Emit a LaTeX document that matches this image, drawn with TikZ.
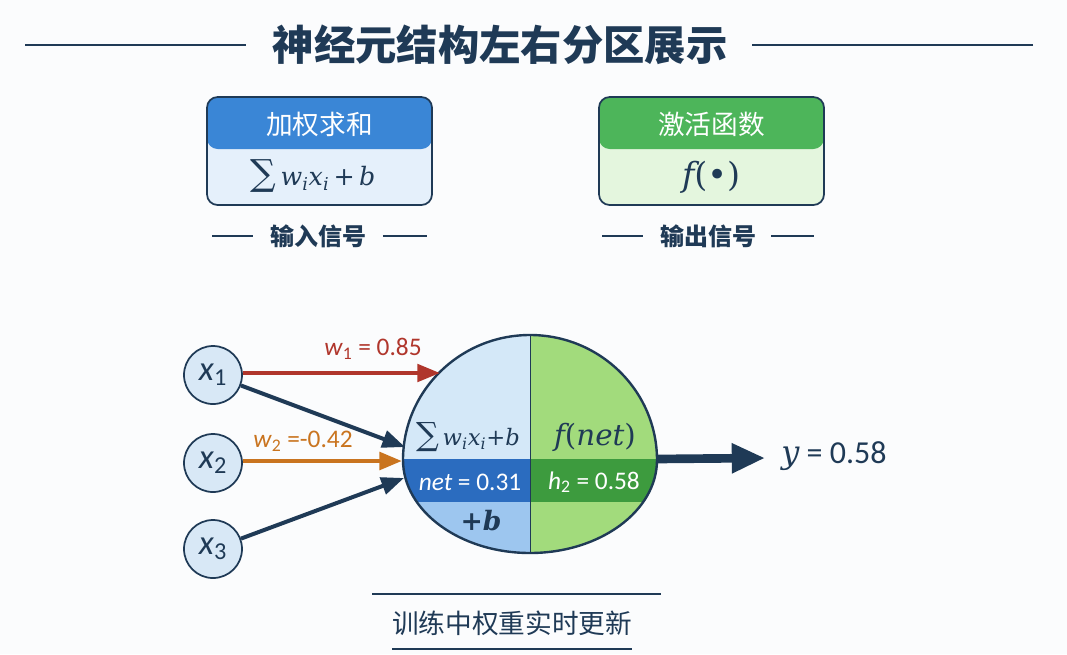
\documentclass[tikz,border=0pt]{standalone}
\usepackage{fontspec}
\setmainfont{Carlito}
\newfontfamily\cjk{Noto Sans CJK SC}
\newfontfamily\fml{DejaVu Serif}
\usetikzlibrary{arrows.meta}
\newcommand\vv[1]{{\fml\itshape #1}}
\newcommand\vs[2]{{\fml\itshape #1\textsubscript{#2}}}
\newcommand\bigsum[1]{{\fontsize{#1}{#1}\selectfont ∑}}
\definecolor{navy}{HTML}{1F3A56}
\definecolor{bgc}{HTML}{FBFCFD}
\definecolor{blueH}{HTML}{3A86D6}
\definecolor{blueL}{HTML}{E5F0FB}
\definecolor{greenH}{HTML}{4DB55A}
\definecolor{greenL}{HTML}{E4F6DE}
\definecolor{nTop}{HTML}{D4E8F8}
\definecolor{nBand}{HTML}{2B6CBF}
\definecolor{nBot}{HTML}{9DC6EF}
\definecolor{gLight}{HTML}{A2DB7C}
\definecolor{gBand}{HTML}{3D9B3E}
\definecolor{wRed}{HTML}{B0362C}
\definecolor{wOrange}{HTML}{C9741F}
\definecolor{inC}{HTML}{D8E8F6}
\tikzset{
  box/.style={draw=navy, line width=1.3pt, rounded corners=8pt, minimum width=168.75pt, minimum height=81pt, inner sep=0pt,
    path picture={\fill[#1] (path picture bounding box.north west) rectangle ([yshift=-39pt]path picture bounding box.north east);}},
  headtxt/.style={text=white, font=\cjk\fontsize{20}{20}\selectfont, inner sep=0pt},
  sigtxt/.style={text=navy, font=\cjk\bfseries\fontsize{18}{18}\selectfont, inner sep=0pt},
  thinline/.style={draw=navy, line width=1pt},
  innode/.style={circle, draw=navy, fill=inC, line width=1.3pt, minimum size=43.5pt, inner sep=0pt, text=navy, font=\fontsize{26}{26}\selectfont},
  warrow/.style={line width=3pt, -{Triangle[length=17pt,width=13pt]}},
}
\def\neuron{(403,460) .. controls (403,391) and (460,335) .. (530,335) .. controls (600,335) and (657,391) .. (657,460) .. controls (657,511) and (600,553) .. (530,553) .. controls (460,553) and (403,511) .. (403,460) -- cycle}
\begin{document}
\begin{tikzpicture}[x=0.75pt,y=-0.75pt]
\fill[bgc] (0,0) rectangle (1067,654);
\useasboundingbox (0,0) rectangle (1067,654);

% title
\node[inner sep=0pt, text=navy, font=\cjk\bfseries\fontsize{31}{31}\selectfont] (title) at (500,45) {神经元结构左右分区展示};
\coordinate (tl) at (25,45);
\coordinate (tr) at (1033,45);
\draw[thinline] (tl) -- ([xshift=-20pt]title.west);
\draw[thinline] (tr) -- ([xshift=18pt]title.east);

% top boxes
\node[box=blueH, fill=blueL] (lbox) at (319.5,151) {};
\node[headtxt] (lhead) at (319.5,124) {加权求和};
\node[inner sep=0pt, text=navy, font=\fml\fontsize{19}{19}\selectfont] (lform) at (313,176) {\bigsum{27}\,\vs{w}{i}\vs{x}{i}\,+\,\vv{b}};
\node[sigtxt] (lsig) at (318.5,236) {输入信号};
\draw[thinline] ([xshift=-13pt]lsig.west) -- ++(-41,0);
\draw[thinline] ([xshift=12pt]lsig.east) -- ++(44,0);

\node[box=greenH, fill=greenL] (rbox) at (711.5,151) {};
\node[headtxt] (rhead) at (711.5,124) {激活函数};
\node[inner sep=0pt, text=navy, font=\fml\fontsize{25}{25}\selectfont] (rform) at (711,177) {\vv{f}(•)};
\node[sigtxt] (rsig) at (708.5,236) {输出信号};
\draw[thinline] ([xshift=-13pt]rsig.west) -- ++(-41,0);
\draw[thinline] ([xshift=11pt]rsig.east) -- ++(43,0);

% neuron
\begin{scope}
\clip \neuron;
\fill[nTop] (400,330) rectangle (530.5,459);
\fill[nBand] (400,459) rectangle (530.5,502);
\fill[nBot] (400,502) rectangle (530.5,560);
\fill[gLight] (530.5,330) rectangle (660,560);
\fill[gBand] (530.5,459) rectangle (660,502);
\draw[navy, line width=1.3pt] (530.5,330) -- (530.5,560);
\end{scope}
\draw[navy, line width=1.8pt] \neuron;

\node[inner sep=0pt, text=navy, font=\fml\fontsize{17}{17}\selectfont] (sumtxt) at (468,437) {\bigsum{24}\,\vs{w}{i}\vs{x}{i}+\vv{b}};
\node[inner sep=0pt, text=navy, font=\fml\fontsize{22}{22}\selectfont] (ftxt) at (595,437) {\vv{f}(\vv{net})};
\node[inner sep=0pt, text=white, font=\fontsize{19}{19}\selectfont] (nettxt) at (470,482) {\textit{net} = 0.31};
\node[inner sep=0pt, text=white, font=\fontsize{19}{19}\selectfont] (htxt) at (594,482) {\textit{h}\textsubscript{2} = 0.58};
\node[inner sep=0pt, text=navy, font=\fml\bfseries\fontsize{20}{20}\selectfont] (btxt) at (481,521) {+\vv{b}};

\coordinate (n1) at (440,373);
\coordinate (n2) at (405,447);
\coordinate (n3) at (402,461);
\coordinate (n4) at (404,478);
\coordinate (nout) at (657,459);

% inputs
\node[innode] (x1) at (213,375) {\textit{x}\textsubscript{1}};
\node[innode] (x2) at (213,463) {\textit{x}\textsubscript{2}};
\node[innode] (x3) at (213,549) {\textit{x}\textsubscript{3}};

\draw[warrow, wRed] (x1.east |- n1) -- (n1);
\draw[warrow, navy] (x1) -- (n2);
\draw[warrow, wOrange, line width=3.5pt] (x2.east |- n3) -- (n3);
\draw[warrow, navy] (x3) -- (n4);

\node[inner sep=0pt, text=wRed, font=\fontsize{19}{19}\selectfont] (w1) at (373,349) {\textit{w}\textsubscript{1} = 0.85};
\node[inner sep=0pt, text=wOrange, font=\fontsize{19}{19}\selectfont] (w2) at (303,441) {\textit{w}\textsubscript{2} =-0.42};

% output
\node[inner sep=0pt, text=navy, font=\fontsize{24}{24}\selectfont] (yout) at (834,456) {\vv{y} = 0.58};
\draw[navy, line width=6.5pt, -{Triangle[length=25pt,width=21pt]}] (nout) -- ([xshift=-12pt,yshift=-1.5pt]yout.west);

% bottom
\node[inner sep=0pt, text=navy, font=\cjk\fontsize{20}{20}\selectfont] (upd) at (512,623) {训练中权重实时更新};
\draw[thinline] (372,594) -- (661,594);
\draw[thinline] (392,649) -- (632,649);
\end{tikzpicture}
\end{document}
